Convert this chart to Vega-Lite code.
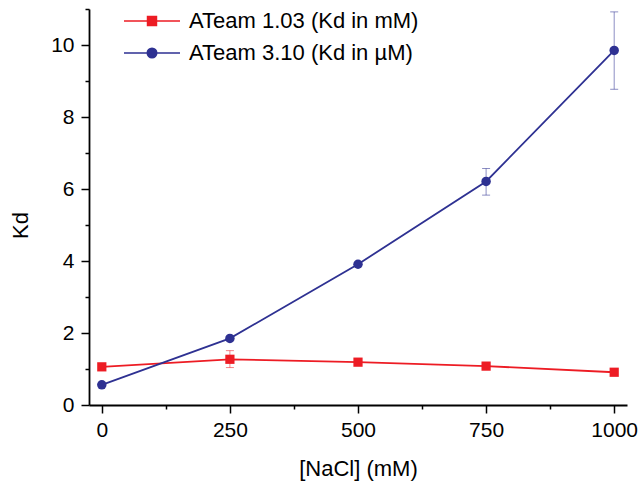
{
  "$schema": "https://vega.github.io/schema/vega-lite/v6.json",
  "width": 538,
  "height": 396,
  "autosize": {"type": "none"},
  "padding": {"left": 89, "top": 9, "right": 13, "bottom": 84},
  "background": "white",
  "config": {
    "view": {"stroke": null},
    "font": "Liberation Sans",
    "axis": {
      "grid": false,
      "domainColor": "black",
      "domainWidth": 1.8,
      "tickColor": "black",
      "tickWidth": 1.5,
      "labelFont": "Liberation Sans",
      "labelFontSize": 21,
      "labelColor": "black",
      "titleFont": "Liberation Sans",
      "titleFontSize": 22,
      "titleFontWeight": "normal",
      "titleColor": "black"
    }
  },
  "data": {
    "values": [
      {"series": "ATeam 1.03 (Kd in mM)", "nacl": 0, "kd": 1.06},
      {"series": "ATeam 1.03 (Kd in mM)", "nacl": 250, "kd": 1.27, "lo": 1.04, "hi": 1.51},
      {"series": "ATeam 1.03 (Kd in mM)", "nacl": 500, "kd": 1.19},
      {"series": "ATeam 1.03 (Kd in mM)", "nacl": 750, "kd": 1.08},
      {"series": "ATeam 1.03 (Kd in mM)", "nacl": 1000, "kd": 0.91},
      {"series": "ATeam 3.10 (Kd in µM)", "nacl": 0, "kd": 0.56},
      {"series": "ATeam 3.10 (Kd in µM)", "nacl": 250, "kd": 1.85},
      {"series": "ATeam 3.10 (Kd in µM)", "nacl": 500, "kd": 3.91},
      {"series": "ATeam 3.10 (Kd in µM)", "nacl": 750, "kd": 6.21, "lo": 5.83, "hi": 6.57},
      {"series": "ATeam 3.10 (Kd in µM)", "nacl": 1000, "kd": 9.85, "lo": 8.77, "hi": 10.92}
    ]
  },
  "encoding": {
    "x": {
      "field": "nacl",
      "type": "quantitative",
      "scale": {"domain": [-25, 1025], "nice": false, "zero": false},
      "axis": {
        "title": "[NaCl] (mM)",
        "values": [0, 125, 250, 375, 500, 625, 750, 875, 1000],
        "format": "d",
        "labelExpr": "datum.value % 250 === 0 ? datum.label : ''",
        "tickSize": {"condition": {"test": "datum.value % 250 === 0", "value": 8}, "value": 4},
        "labelPadding": 6,
        "labelFlush": false,
        "labelOverlap": false,
        "titlePadding": 18
      }
    },
    "y": {
      "field": "kd",
      "type": "quantitative",
      "scale": {"domain": [0, 11], "nice": false},
      "axis": {
        "title": "Kd",
        "values": [0, 1, 2, 3, 4, 5, 6, 7, 8, 9, 10, 11],
        "labelExpr": "datum.value % 2 === 0 ? datum.label : ''",
        "tickSize": {"condition": {"test": "datum.value % 2 === 0", "value": 8}, "value": 4},
        "labelPadding": 7,
        "labelOverlap": false,
        "titlePadding": 18,
        "titleY": 216
      }
    },
    "color": {
      "field": "series",
      "type": "nominal",
      "scale": {"domain": ["ATeam 1.03 (Kd in mM)", "ATeam 3.10 (Kd in µM)"], "range": ["#ED1C24", "#2E3192"]},
      "legend": {
        "title": null,
        "orient": "none",
        "legendX": 48,
        "legendY": -3,
        "padding": 0,
        "labelFont": "Liberation Sans",
        "labelFontSize": 22,
        "labelColor": "black",
        "labelLimit": 400,
        "labelOffset": 22,
        "rowPadding": 6,
        "symbolSize": 784,
        "symbolStrokeWidth": 1.5,
        "encode": {
          "symbols": {
            "update": {
              "shape": {"signal": "datum.value === 'ATeam 1.03 (Kd in mM)' ? 'M-2,0H2M-0.32,-0.32H0.32V0.32H-0.32Z' : 'M-2,0H2M0.34,0A0.34,0.34,0,1,1,-0.34,0A0.34,0.34,0,1,1,0.34,0Z'"},
              "fill": {"scale": "color", "field": "value"},
              "stroke": {"scale": "color", "field": "value"},
              "strokeWidth": {"value": 1.5},
              "opacity": {"value": 1}
            }
          }
        }
      }
    }
  },
  "layer": [
    {
      "transform": [{"filter": "isValid(datum.lo)"}],
      "mark": {"type": "rule", "strokeWidth": 1, "opacity": 0.55},
      "encoding": {
        "y": {"field": "lo", "type": "quantitative"},
        "y2": {"field": "hi"}
      }
    },
    {
      "transform": [{"filter": "isValid(datum.lo)"}],
      "mark": {"type": "tick", "orient": "horizontal", "size": 8, "thickness": 1, "opacity": 0.55},
      "encoding": {
        "y": {"field": "lo", "type": "quantitative"}
      }
    },
    {
      "transform": [{"filter": "isValid(datum.hi)"}],
      "mark": {"type": "tick", "orient": "horizontal", "size": 8, "thickness": 1, "opacity": 0.55},
      "encoding": {
        "y": {"field": "hi", "type": "quantitative"}
      }
    },
    {
      "mark": {"type": "line", "strokeWidth": 1.8}
    },
    {
      "transform": [{"filter": "datum.series === 'ATeam 1.03 (Kd in mM)'"}],
      "mark": {"type": "point", "shape": "square", "filled": true, "size": 85, "opacity": 1}
    },
    {
      "transform": [{"filter": "datum.series === 'ATeam 3.10 (Kd in µM)'"}],
      "mark": {"type": "point", "shape": "circle", "filled": true, "size": 90, "opacity": 1}
    }
  ]
}
